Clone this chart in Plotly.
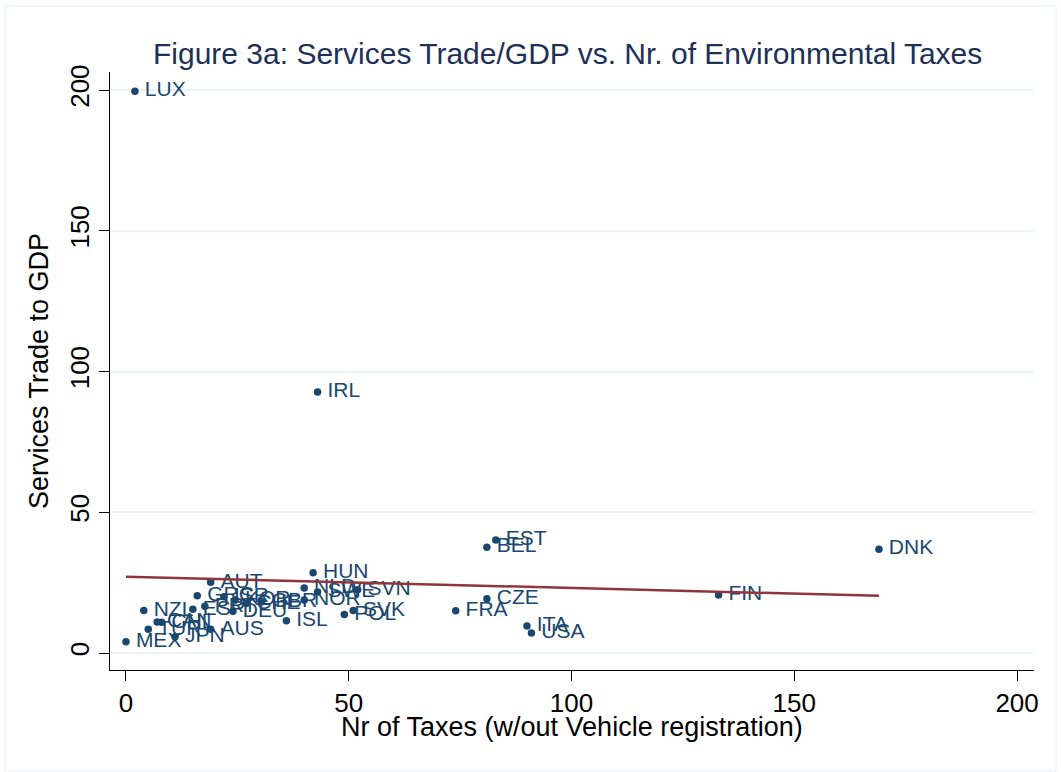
import numpy as np
import plotly.graph_objects as go

countries = ["LUX", "IRL", "EST", "BEL", "DNK", "HUN", "AUT", "FIN", "CZE", "FRA",
             "ITA", "USA", "SVN", "NLD", "SWE", "NOR", "SVK", "POL", "ISL", "GBR",
             "CHE", "KOR", "ISR", "PRT", "GRC", "DEU", "ESP", "NZL", "CAN", "CHL",
             "TUR", "JPN", "AUS", "MEX"]
n_taxes = [2, 43, 83, 81, 169, 42, 19, 133, 81, 74,
           90, 91, 52, 40, 43, 40, 51, 49, 36, 30.5,
           27, 24.5, 22, 17.7, 16, 24, 15, 4, 7, 8,
           5, 11, 19, 0]
services_gdp = [199.6, 92.7, 40.1, 37.6, 36.9, 28.5, 25.1, 20.6, 19.3, 15.0,
                9.6, 7.1, 22.5, 23.1, 21.7, 18.8, 15.1, 13.7, 11.5, 18.2,
                17.6, 18.8, 20.0, 16.6, 20.3, 14.8, 15.5, 15.1, 11.0, 10.9,
                8.4, 5.8, 8.4, 4.0]

x_ticks = [0, 50, 100, 150, 200]
y_ticks = [0, 50, 100, 150, 200]

navy = "#1a476f"
maroon = "#90353b"
font_family = "Liberation Sans, Arial, sans-serif"

x = np.array(n_taxes, dtype=float)
y = np.array(services_gdp, dtype=float)
slope, intercept = np.polyfit(x, y, 1)
fit_x = np.array([x.min(), x.max()])
fit_y = intercept + slope * fit_x

fig = go.Figure()
fig.add_trace(go.Scatter(
    x=n_taxes, y=services_gdp, mode="markers+text",
    text=["\u2009" + c for c in countries],
    textposition="middle right",
    textfont=dict(family=font_family, size=21, color=navy),
    marker=dict(color=navy, size=7.5),
    showlegend=False, cliponaxis=False,
))
fig.add_trace(go.Scatter(
    x=fit_x, y=fit_y, mode="lines",
    line=dict(color=maroon, width=2.5),
    showlegend=False,
))

W, H = 1061, 772
L, R, T, B = 110, 27, 72, 102
pw, ph = W - L - R, H - T - B

fig.update_layout(
    width=W, height=H,
    paper_bgcolor="white", plot_bgcolor="white",
    margin=dict(l=L, r=R, t=T, b=B),
    title=dict(text="Figure 3a: Services Trade/GDP vs. Nr. of Environmental Taxes",
               x=0.535, xanchor="center", y=0.931, yanchor="middle",
               font=dict(family=font_family, size=30, color="#1e3056")),
    font=dict(family=font_family, color="black"),
    shapes=[dict(type="rect", xref="paper", yref="paper",
                 x0=-(L - 5) / pw, x1=1 + (R - 5) / pw,
                 y0=-(B - 1) / ph, y1=1 + (T - 6) / ph,
                 line=dict(color="#e8f0f2", width=1), layer="below")],
    annotations=[dict(text="Nr of Taxes (w/out Vehicle registration)",
                      xref="paper", yref="paper", x=0.5, y=-57 / ph,
                      xanchor="center", yanchor="middle", showarrow=False,
                      font=dict(family=font_family, size=27, color="black"))],
)
fig.update_xaxes(
    range=[-3.59, 203.8], tickvals=x_ticks, ticktext=[str(v) for v in x_ticks],
    showgrid=False, zeroline=False, showline=True, linecolor="black", linewidth=1,
    ticks="outside", ticklen=10, tickcolor="black",
    tickfont=dict(size=26, color="black"),
)
fig.update_yaxes(
    range=[-6.04, 206.4], tickvals=y_ticks, ticktext=[str(v) for v in y_ticks],
    showgrid=True, gridcolor="#eaf2f3", gridwidth=2, zeroline=False,
    showline=True, linecolor="black", linewidth=1,
    ticks="outside", ticklen=10, tickcolor="black", tickangle=-90,
    tickfont=dict(size=26, color="black"),
    title=dict(text="Services Trade to GDP", font=dict(size=27, color="black"), standoff=8),
)

fig.write_html("out.html")
